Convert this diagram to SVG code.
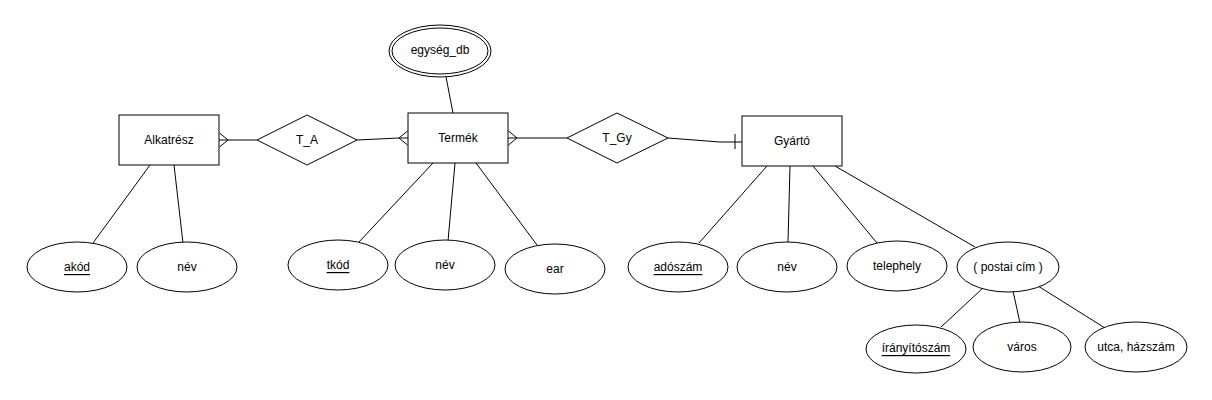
<svg xmlns="http://www.w3.org/2000/svg" width="1212" height="400" viewBox="0 0 1212 400">
<style>
.s{fill:#fff;stroke:#000;stroke-width:1}
.c{fill:none;stroke:#000;stroke-width:1}
text{font-family:"Liberation Sans",Arial,sans-serif;font-size:12px;fill:#000;text-anchor:middle;dominant-baseline:central}
.u{text-decoration:underline}
</style>
<rect width="1212" height="400" fill="#fff"/>
<g id="connectors">
<polyline class="c" points="219,140 257,140"/>
<polyline class="c" points="219.5,133 228,140 219.5,147"/>
<polyline class="c" points="357,140 399,138 408,138"/>
<polyline class="c" points="407.5,131 399,138 407.5,145"/>
<polyline class="c" points="508,138 567,138"/>
<polyline class="c" points="508.5,131 517,138 508.5,145"/>
<polyline class="c" points="668,138 720,142 742,142"/>
<line class="c" x1="735" y1="134" x2="735" y2="149"/>
<line class="c" x1="446" y1="77" x2="453" y2="113"/>
<line class="c" x1="150" y1="165" x2="93" y2="243"/>
<line class="c" x1="174" y1="165" x2="183" y2="243"/>
<line class="c" x1="433" y1="163" x2="359" y2="242"/>
<line class="c" x1="455" y1="163" x2="448" y2="241"/>
<line class="c" x1="476" y1="163" x2="537" y2="245"/>
<line class="c" x1="767" y1="166" x2="699" y2="243"/>
<line class="c" x1="790" y1="166" x2="788" y2="242"/>
<line class="c" x1="813" y1="166" x2="877" y2="243"/>
<line class="c" x1="835" y1="166" x2="975" y2="247"/>
<line class="c" x1="983" y1="288" x2="941" y2="327"/>
<line class="c" x1="1013" y1="291" x2="1020" y2="323"/>
<line class="c" x1="1038" y1="286" x2="1105" y2="328"/>
</g>
<g id="alkatresz"><rect class="s" x="119" y="115" width="100" height="50"/><text x="169" y="140">Alkatrész</text></g>
<g id="t_a"><polygon class="s" points="257,140 307,115 357,140 307,165"/><text x="307" y="140">T_A</text></g>
<g id="termek"><rect class="s" x="408" y="113" width="100" height="50"/><text x="458" y="138">Termék</text></g>
<g id="t_gy"><polygon class="s" points="567,138 617,113 668,138 617,163"/><text x="617" y="138">T_Gy</text></g>
<g id="gyarto"><rect class="s" x="742" y="116" width="100" height="50"/><text x="792" y="141">Gyártó</text></g>
<g id="egyseg_db"><ellipse class="s" cx="440" cy="51" rx="51" ry="26"/><ellipse class="s" cx="440" cy="51" rx="48" ry="23"/><text x="440" y="50">egység_db</text></g>
<g id="akod"><ellipse class="s" cx="77" cy="267" rx="50" ry="25"/><text class="u" x="77" y="267">akód</text></g>
<g id="alk_nev"><ellipse class="s" cx="187" cy="267" rx="50" ry="25"/><text x="187" y="267">név</text></g>
<g id="tkod"><ellipse class="s" cx="338" cy="265" rx="50" ry="25"/><text class="u" x="338" y="265">tkód</text></g>
<g id="termek_nev"><ellipse class="s" cx="445" cy="265" rx="50" ry="25"/><text x="445" y="265">név</text></g>
<g id="ear"><ellipse class="s" cx="555" cy="269" rx="50" ry="25"/><text x="555" y="269">ear</text></g>
<g id="adoszam"><ellipse class="s" cx="678" cy="267" rx="50" ry="25"/><text class="u" x="678" y="267">adószám</text></g>
<g id="gyarto_nev"><ellipse class="s" cx="787" cy="267" rx="50" ry="25"/><text x="787" y="267">név</text></g>
<g id="telephely"><ellipse class="s" cx="897" cy="266" rx="50" ry="25"/><text x="897" y="266">telephely</text></g>
<g id="postai_cim"><ellipse class="s" cx="1008" cy="267" rx="51" ry="25"/><text x="1008" y="267">( postai cím )</text></g>
<g id="iranyitoszam"><ellipse class="s" cx="916" cy="349" rx="50" ry="24"/><text class="u" x="916" y="348">írányítószám</text></g>
<g id="varos"><ellipse class="s" cx="1022" cy="347" rx="49" ry="25"/><text x="1022" y="347">város</text></g>
<g id="utca"><ellipse class="s" cx="1136" cy="347" rx="51" ry="25"/><text x="1136" y="347">utca, házszám</text></g>
</svg>
